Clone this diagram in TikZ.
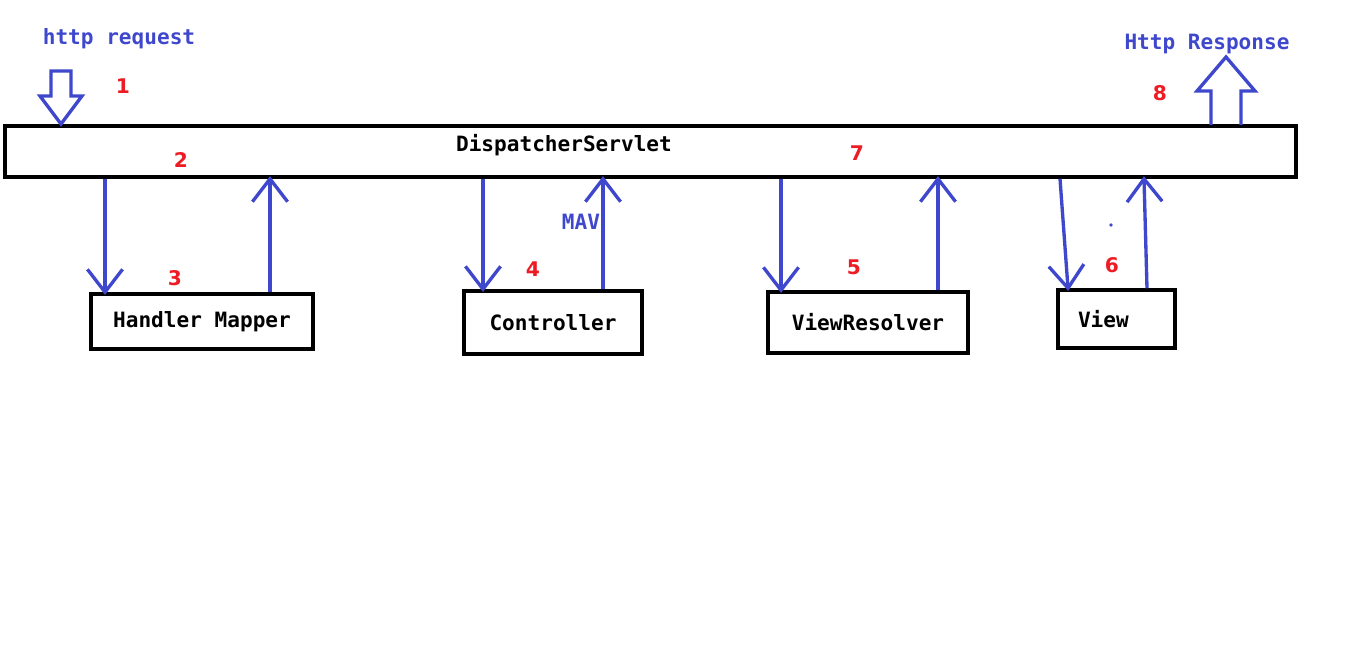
\documentclass[tikz,border=0pt]{standalone}
\usepackage{fontspec}
\setmonofont{DejaVu Sans Mono}
\setsansfont{DejaVu Sans}
\usepackage{tikz}
\usetikzlibrary{positioning,arrows.meta}
\definecolor{paintblue}{RGB}{63,72,204}
\definecolor{paintred}{RGB}{237,28,36}
\tikzset{
  box/.style={draw, line width=2pt, inner sep=0pt,
    font=\ttfamily\bfseries\fontsize{12}{14}\selectfont},
  boxtext/.style={font=\ttfamily\bfseries\fontsize{12}{14}\selectfont},
  flow/.style={->, draw=paintblue, line width=1.9pt, shorten >=-1.5pt},
  stepno/.style={text=paintred, font=\sffamily\bfseries\fontsize{11.5}{13}\selectfont},
  bluetext/.style={text=paintblue, font=\ttfamily\bfseries\fontsize{12}{14}\selectfont},
  hollow/.style={draw=paintblue, line width=1.9pt, line join=miter}
}

\begin{document}
\begin{tikzpicture}[x=0.02cm, y=-0.02cm, >={Straight Barb[length=13pt,width=20pt]}]
    \useasboundingbox (0,0) rectangle (1359,654);

    % front controller
    \node[box, minimum width=25.82cm, minimum height=1.02cm] (disp) at (650.5,151.5) {};
    \node[boxtext] (disptitle) at (564,145) {DispatcherServlet};

    % request and response
    \node[bluetext] (request) at (119,39) {http request};
    \node[bluetext] (response) at (1207,44) {Http Response};
    \draw[hollow] (51,71) -- (71,71) -- (71,96) -- (82,96) -- (61,124) -- (40,96) -- (51,96) -- cycle;
    \draw[hollow] (1211,125) -- (1211,91) -- (1197,91) -- (1226,57) -- (1255,91) -- (1241,91) -- (1241,125);

    % components
    \node[box, minimum width=4.44cm, minimum height=1.1cm] (mapper) at (202,321.5) {Handler Mapper};
    \node[box, minimum width=3.56cm, minimum height=1.26cm] (ctrl) at (553,322.5) {Controller};
    \node[box, minimum width=4cm, minimum height=1.22cm] (resolver) at (868,322.5) {ViewResolver};
    \node[box, minimum height=1.16cm, inner xsep=0.4cm, text width=1.54cm, align=left] (view) at (1116.5,319) {View};

    % calls
    \draw[flow] (disp.south -| 105,0) -- (mapper.north -| 105,0);
    \draw[flow] (mapper.north -| 270,0) -- (disp.south -| 270,0);
    \draw[flow] (disp.south -| 483,0) -- (ctrl.north -| 483,0);
    \draw[flow] (ctrl.north -| 603,0) -- (disp.south -| 603,0);
    \draw[flow] (disp.south -| 781,0) -- (resolver.north -| 781,0);
    \draw[flow] (resolver.north -| 938,0) -- (disp.south -| 938,0);
    \draw[flow] (disp.south -| 1060,0) -- (view.north -| 1068,0);
    \draw[flow] (view.north -| 1147,0) -- (disp.south -| 1144,0);
    \fill[paintblue] (1111,225) circle (1.8);

    \node[bluetext] (mav) at (581,222) {MAV};

    % step numbers
    \node[stepno] (n1) at (123,86) {1};
    \node[stepno] (n2) at (181,160) {2};
    \node[stepno] (n3) at (175,278) {3};
    \node[stepno] (n4) at (533,269) {4};
    \node[stepno] (n5) at (854,267) {5};
    \node[stepno] (n6) at (1112,265) {6};
    \node[stepno] (n7) at (857,153) {7};
    \node[stepno] (n8) at (1160,93) {8};
\end{tikzpicture}
\end{document}
